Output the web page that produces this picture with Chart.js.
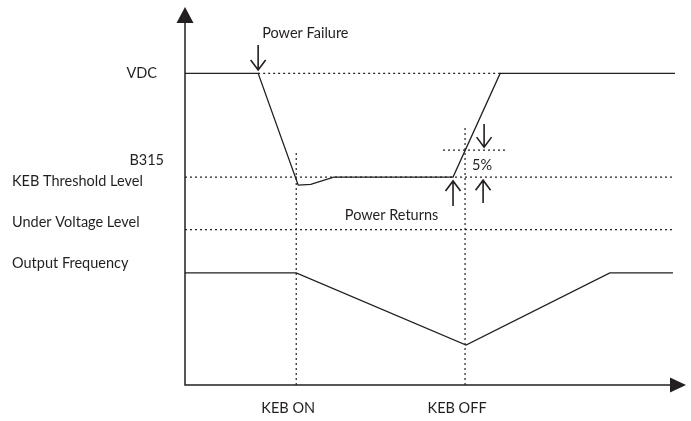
<!DOCTYPE html>
<html>
<head>
<meta charset="utf-8">
<script src="https://cdn.jsdelivr.net/npm/chart.js@4/dist/chart.umd.min.js"></script>
<style>
  html, body { margin: 0; padding: 0; background: #ffffff; }
  #wrap { width: 691px; height: 421px; }
</style>
</head>
<body>
<div id="wrap"><canvas id="c" width="691" height="421"></canvas></div>
<script>
// ---- data (x: time units 0..100, y: level units 0..100) ----
const vdcX  = [0, 14.6, 22.6, 25.1, 29.7, 53.5, 62.9, 97.8];
const vdcY  = [82, 82, 52.6, 52.8, 54.7, 54.7, 82, 82];
const freqX = [0, 22.2, 56.1, 84.8, 97.4];
const freqY = [29.5, 29.5, 10.5, 29.5, 29.5];

const levelNames  = ["VDC", "KEB Threshold Level", "Under Voltage Level", "5%"];
const levelValues = [82, 54.7, 40.9, 61.8];
const levelStartX = [14.6, 0, 0, 51.5];
const levelEndX   = [62.9, 97.8, 97.8, 63.9];

const eventNames  = ["KEB ON", "KEB OFF"];
const eventX      = [22.2, 55.9];
const eventTopY   = [61.8, 67.6];

const sideLabels  = ["VDC", "B315", "KEB Threshold Level", "Under Voltage Level", "Output Frequency"];
const sideLabelY  = [82, 59.2, 53.7, 42.9, 32.1];

const noteTexts   = ["Power Failure", "Power Returns", "5%"];
const noteX       = [15.4, 31.9, 57.3];
const noteY       = [92.6, 44.7, 57.9];

// arrows: x, from y, to y (tip)
const arrowX      = [14.6, 53.5, 59.7, 59.5];
const arrowFromY  = [89.5, 47.1, 68.7, 47.9];
const arrowToY    = [82.9, 53.7, 62.6, 53.9];

const INK = "#231f20";
const FONT = "14.5px Lato, 'DejaVu Sans', sans-serif";

function pts(xs, ys) { return xs.map((x, i) => ({ x: x, y: ys[i] })); }

const datasets = [];
// dotted reference levels
levelValues.forEach((v, i) => {
  datasets.push({
    label: levelNames[i],
    data: [{ x: levelStartX[i], y: v }, { x: levelEndX[i], y: v }],
    borderColor: INK, borderWidth: 1.2, borderDash: [2, 3], pointRadius: 0, showLine: true
  });
});
// dotted event verticals
eventX.forEach((x, i) => {
  datasets.push({
    label: eventNames[i],
    data: [{ x: x, y: 0 }, { x: x, y: eventTopY[i] }],
    borderColor: INK, borderWidth: 1.2, borderDash: [2, 3], pointRadius: 0, showLine: true
  });
});
datasets.push({ label: "VDC", data: pts(vdcX, vdcY), borderColor: INK, borderWidth: 1.3, pointRadius: 0, showLine: true, tension: 0 });
datasets.push({ label: "Output Frequency", data: pts(freqX, freqY), borderColor: INK, borderWidth: 1.3, pointRadius: 0, showLine: true, tension: 0 });

function openArrow(ctx, x, y1, y2) {
  const dir = y2 > y1 ? 1 : -1;
  ctx.beginPath();
  ctx.moveTo(x, y1); ctx.lineTo(x, y2);
  ctx.moveTo(x - 7.5, y2 - dir * 10); ctx.lineTo(x, y2); ctx.lineTo(x + 7.5, y2 - dir * 10);
  ctx.stroke();
}

const decor = {
  id: "decor",
  afterDraw(chart) {
    const ctx = chart.ctx, xs = chart.scales.x, ys = chart.scales.y, a = chart.chartArea;
    ctx.save();
    ctx.strokeStyle = INK; ctx.fillStyle = INK;
    // axes
    ctx.lineWidth = 1.5;
    ctx.beginPath();
    ctx.moveTo(a.left, a.top + 14); ctx.lineTo(a.left, a.bottom); ctx.lineTo(a.right - 14, a.bottom);
    ctx.stroke();
    ctx.beginPath();
    ctx.moveTo(a.left, a.top + 2); ctx.lineTo(a.left - 8.5, a.top + 18); ctx.lineTo(a.left + 8.5, a.top + 18); ctx.closePath(); ctx.fill();
    ctx.beginPath();
    ctx.moveTo(a.right, a.bottom); ctx.lineTo(a.right - 16, a.bottom - 7.5); ctx.lineTo(a.right - 16, a.bottom + 7.5); ctx.closePath(); ctx.fill();
    // arrows
    ctx.lineWidth = 1.6;
    arrowX.forEach((x, i) => openArrow(ctx, xs.getPixelForValue(x), ys.getPixelForValue(arrowFromY[i]), ys.getPixelForValue(arrowToY[i])));
    // texts
    ctx.font = FONT; ctx.textBaseline = "middle";
    ctx.textAlign = "left";
    noteTexts.forEach((t, i) => ctx.fillText(t, xs.getPixelForValue(noteX[i]), ys.getPixelForValue(noteY[i])));
    sideLabels.forEach((t, i) => {
      const y = ys.getPixelForValue(sideLabelY[i]);
      if (i < 2) { ctx.textAlign = "right"; ctx.fillText(t, i === 0 ? 157 : 164, y); }
      else { ctx.textAlign = "left"; ctx.fillText(t, 12, y); }
    });
    ctx.textAlign = "center";
    eventNames.forEach((t, i) => ctx.fillText(t, xs.getPixelForValue(eventX[i]) - 8, a.bottom + 23));
    ctx.restore();
  }
};

new Chart(document.getElementById("c"), {
  type: "scatter",
  data: { datasets: datasets },
  options: {
    responsive: false,
    devicePixelRatio: 1,
    animation: false,
    layout: { padding: { left: 185, right: 5, top: 5, bottom: 36 } },
    plugins: { legend: { display: false }, tooltip: { enabled: false } },
    scales: {
      x: { type: "linear", min: 0, max: 100, display: false },
      y: { type: "linear", min: 0, max: 100, display: false }
    }
  },
  plugins: [decor]
});
</script>
</body>
</html>
